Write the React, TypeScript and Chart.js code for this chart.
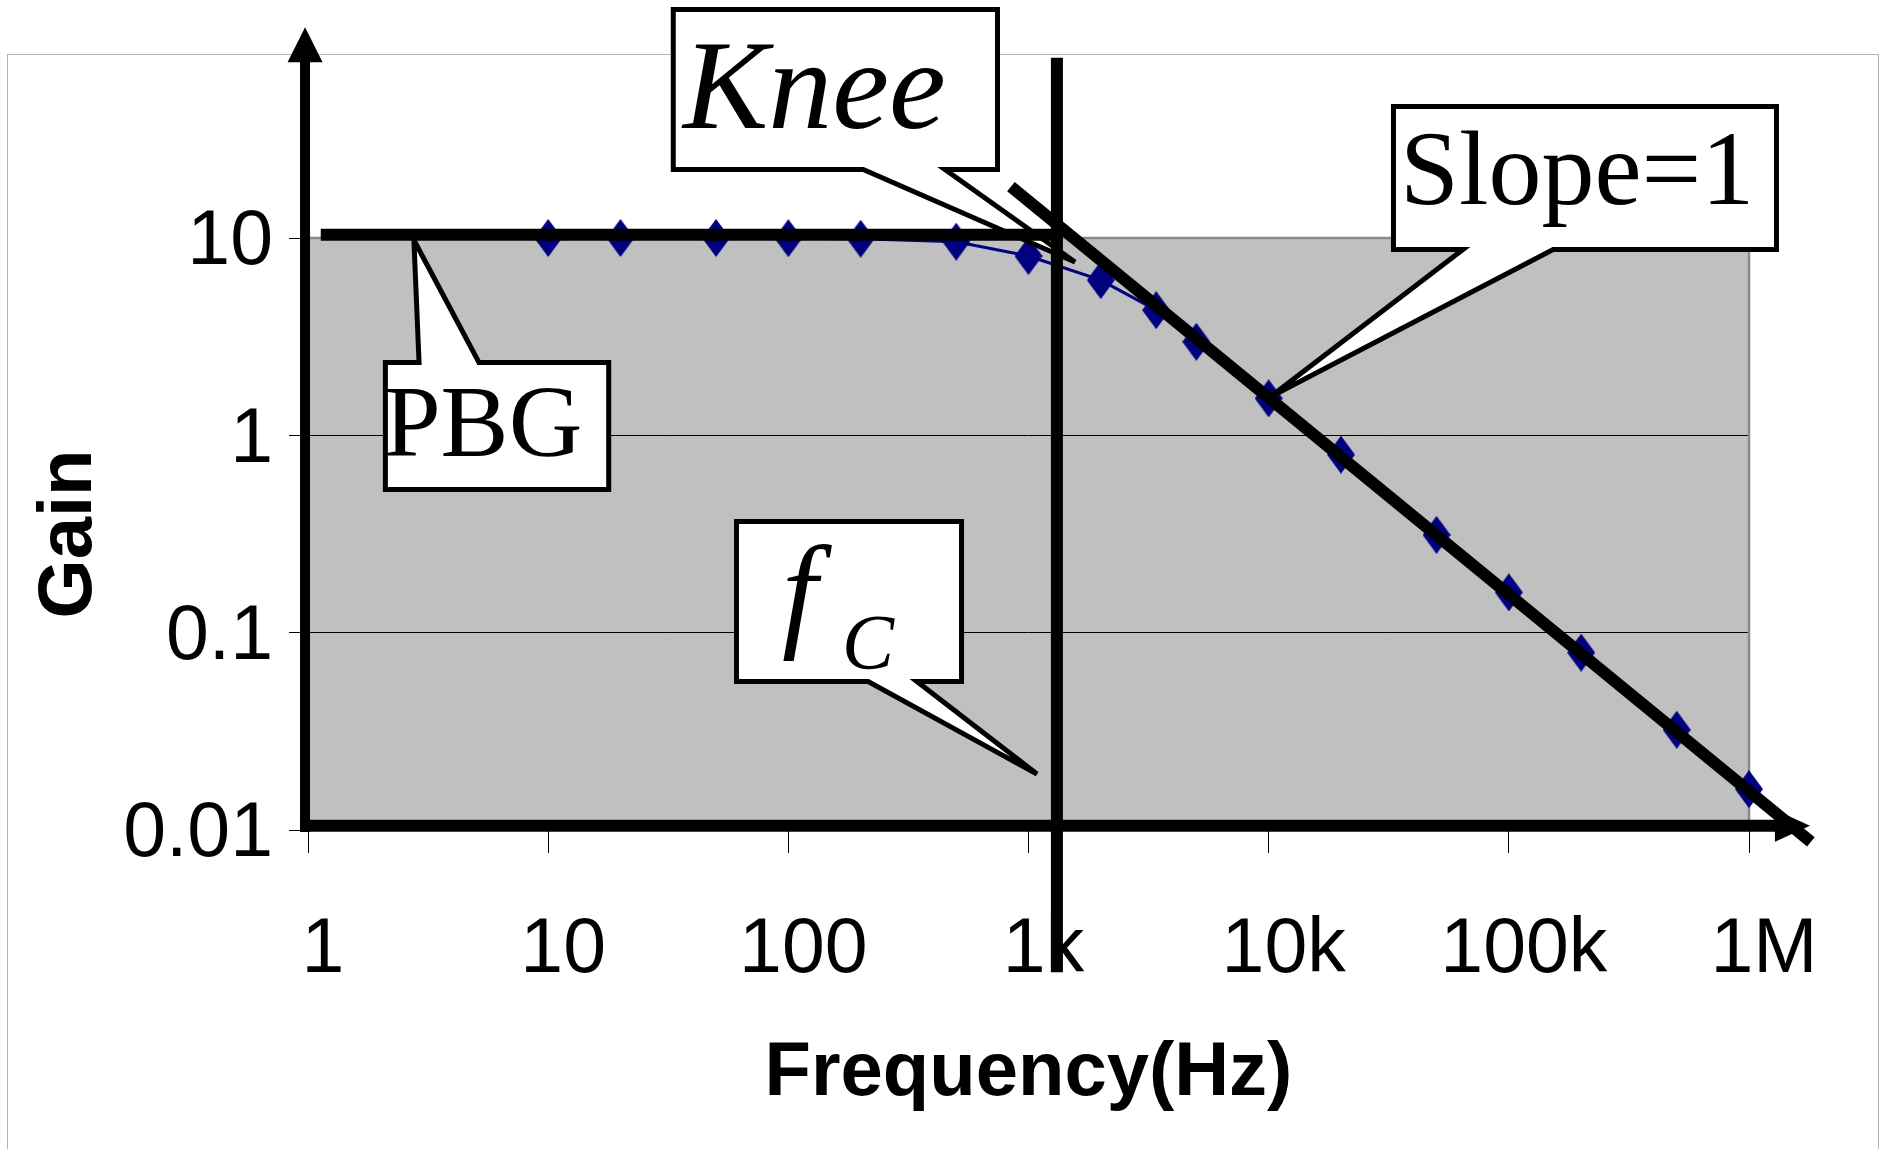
import { useEffect, useRef } from "react";
import { Chart, registerables } from "chart.js";

Chart.register(...registerables);

// ---------- data ----------
const FREQ_HZ = [10, 20, 50, 100, 200, 500, 1000, 2000, 3400, 5000, 10000, 20000, 50000, 100000, 200000, 500000, 1000000];
const GAIN = [10, 10, 10, 9.98, 9.92, 9.58, 8.1, 6.12, 4.31, 2.98, 1.54, 0.798, 0.313, 0.16, 0.0792, 0.0322, 0.0161];

const X_TICK_VALUES = [1, 10, 100, 1000, 10000, 100000, 1000000];
const X_TICK_LABELS = ["1", "10", "100", "1k", "10k", "100k", "1M"];
const Y_TICK_VALUES = [0.01, 0.1, 1, 10];
const Y_TICK_LABELS = ["0.01", "0.1", "1", "10"];

const X_TITLE = "Frequency(Hz)";
const Y_TITLE = "Gain";

// guide lines, in (frequency, gain)
const PBG_LINE_FREQ = [1.13, 1313];
const PBG_LINE_GAIN = [10.4, 10.4];
const FC_LINE_FREQ = [1313, 1313];
const FC_LINE_GAIN = [82, 0.0019];
const SLOPE_LINE_FREQ = [845, 1810000];
const SLOPE_LINE_GAIN = [18.2, 0.0087];

// drawn axes with arrows, in (frequency, gain)
const Y_AXIS_FREQ = 0.972;
const Y_AXIS_GAIN = [0.00977, 117]; // bottom, arrow tip
const X_AXIS_GAIN = 0.0105;
const X_AXIS_FREQ = [0.926, 1794000]; // left, arrow tip

// callouts
const CALLOUT_TEXT = { pbg: "PBG", knee: "Knee", slope: "Slope=1", f: "f", c: "C" };

type Run = { text: string; font: string; at: [number, number] };
type Callout = {
  box: [number, number, number, number]; // freq left, freq right, gain top, gain bottom
  side: "top" | "bottom";
  base: [number, number];
  tip: [number, number];
  runs: Run[];
};

const SERIF = "'Liberation Serif', 'Times New Roman', serif";
const SANS = "'Liberation Sans', Arial, sans-serif";

const CALLOUTS: Callout[] = [
  {
    box: [2.05, 18.3, 2.41, 0.516],
    side: "top",
    base: [2.9, 5.15],
    tip: [2.76, 9.77],
    runs: [{ text: CALLOUT_TEXT.pbg, font: `102px ${SERIF}`, at: [2.11, 0.786] }],
  },
  {
    box: [32.4, 761, 148, 21.6],
    side: "bottom",
    base: [205, 449],
    tip: [1562, 7.56],
    runs: [{ text: CALLOUT_TEXT.knee, font: `italic 128px ${SERIF}`, at: [35.7, 36.1] }],
  },
  {
    box: [59.4, 539, 0.377, 0.0549],
    side: "bottom",
    base: [215, 343],
    tip: [1085, 0.0192],
    runs: [
      { text: CALLOUT_TEXT.f, font: `italic 127px ${SERIF}`, at: [95, 0.0984] },
      { text: CALLOUT_TEXT.c, font: `italic 78px ${SERIF}`, at: [174, 0.0662] },
    ],
  },
  {
    box: [32300, 1333000, 47.8, 8.49],
    side: "bottom",
    base: [64400, 153000],
    tip: [10100, 1.56],
    runs: [{ text: CALLOUT_TEXT.slope, font: `106px ${SERIF}`, at: [37700, 14.9] }],
  },
];

function makeDiamond(): HTMLCanvasElement {
  const w = 28;
  const h = 38;
  const c = document.createElement("canvas");
  c.width = w;
  c.height = h;
  const g = c.getContext("2d")!;
  g.fillStyle = "#000080";
  g.beginPath();
  g.moveTo(w / 2, 0);
  g.lineTo(w, h / 2);
  g.lineTo(w / 2, h);
  g.lineTo(0, h / 2);
  g.closePath();
  g.fill();
  return c;
}

function drawCallout(ctx: CanvasRenderingContext2D, X: (v: number) => number, Y: (v: number) => number, c: Callout) {
  const h = 2.5;
  const l = X(c.box[0]) + h;
  const r = X(c.box[1]) - h;
  const t = Y(c.box[2]) + h;
  const b = Y(c.box[3]) - h;
  const b1 = X(c.base[0]);
  const b2 = X(c.base[1]);
  const tx = X(c.tip[0]);
  const ty = Y(c.tip[1]);
  ctx.beginPath();
  if (c.side === "top") {
    ctx.moveTo(l, t);
    ctx.lineTo(b1, t);
    ctx.lineTo(tx, ty);
    ctx.lineTo(b2, t);
    ctx.lineTo(r, t);
    ctx.lineTo(r, b);
    ctx.lineTo(l, b);
  } else {
    ctx.moveTo(l, t);
    ctx.lineTo(r, t);
    ctx.lineTo(r, b);
    ctx.lineTo(b2, b);
    ctx.lineTo(tx, ty);
    ctx.lineTo(b1, b);
    ctx.lineTo(l, b);
  }
  ctx.closePath();
  ctx.fillStyle = "#ffffff";
  ctx.fill();
  ctx.lineWidth = 5;
  ctx.strokeStyle = "#000000";
  ctx.lineJoin = "miter";
  ctx.miterLimit = 4;
  ctx.stroke();
  ctx.fillStyle = "#000000";
  ctx.textAlign = "left";
  ctx.textBaseline = "alphabetic";
  for (const run of c.runs) {
    ctx.font = run.font;
    const m = ctx.measureText(run.text);
    ctx.fillText(run.text, X(run.at[0]) + m.actualBoundingBoxLeft, Y(run.at[1]));
  }
}

const decorPlugin = {
  id: "decor",
  beforeDraw(chart: any) {
    const { ctx, chartArea: a, width, height } = chart;
    ctx.save();
    ctx.fillStyle = "#ffffff";
    ctx.fillRect(0, 0, width, height);
    // outer chart frame
    ctx.strokeStyle = "#b4b4b4";
    ctx.lineWidth = 1;
    ctx.strokeRect(7.5, 54.5, 1871, height + 20);
    // plot area
    ctx.fillStyle = "#c0c0c0";
    ctx.fillRect(a.left, a.top, a.right - a.left, a.bottom - a.top);
    ctx.restore();
  },
  beforeDatasetsDraw(chart: any) {
    const { ctx, chartArea: a } = chart;
    ctx.save();
    ctx.strokeStyle = "#8a8a8a";
    ctx.lineWidth = 2.5;
    ctx.beginPath();
    ctx.moveTo(a.left, a.top);
    ctx.lineTo(a.right, a.top);
    ctx.lineTo(a.right, a.bottom);
    ctx.stroke();
    ctx.restore();
  },
  afterDatasetsDraw(chart: any) {
    const { ctx } = chart;
    const xs = chart.scales.x;
    const ys = chart.scales.y;
    const X = (v: number) => xs.getPixelForValue(v);
    const Y = (v: number) => ys.getPixelForValue(v);
    ctx.save();

    for (const c of CALLOUTS) drawCallout(ctx, X, Y, c);

    ctx.strokeStyle = "#000000";
    ctx.fillStyle = "#000000";
    ctx.lineCap = "butt";

    // y axis with arrow
    const yx = X(Y_AXIS_FREQ);
    const yTip = Y(Y_AXIS_GAIN[1]);
    ctx.lineWidth = 10;
    ctx.beginPath();
    ctx.moveTo(yx, Y(Y_AXIS_GAIN[0]));
    ctx.lineTo(yx, yTip + 34);
    ctx.stroke();
    ctx.beginPath();
    ctx.moveTo(yx, yTip);
    ctx.lineTo(yx - 17.5, yTip + 35);
    ctx.lineTo(yx + 17.5, yTip + 35);
    ctx.closePath();
    ctx.fill();

    // x axis with arrow
    const xy = Y(X_AXIS_GAIN);
    const xTip = X(X_AXIS_FREQ[1]);
    ctx.lineWidth = 12;
    ctx.beginPath();
    ctx.moveTo(X(X_AXIS_FREQ[0]), xy);
    ctx.lineTo(xTip - 34, xy);
    ctx.stroke();
    ctx.beginPath();
    ctx.moveTo(xTip, xy);
    ctx.lineTo(xTip - 35, xy - 16);
    ctx.lineTo(xTip - 35, xy + 16);
    ctx.closePath();
    ctx.fill();

    // guide lines
    ctx.lineWidth = 12;
    const lines: [number[], number[]][] = [
      [PBG_LINE_FREQ, PBG_LINE_GAIN],
      [FC_LINE_FREQ, FC_LINE_GAIN],
      [SLOPE_LINE_FREQ, SLOPE_LINE_GAIN],
    ];
    for (const [fx, gy] of lines) {
      ctx.beginPath();
      ctx.moveTo(X(fx[0]), Y(gy[0]));
      ctx.lineTo(X(fx[1]), Y(gy[1]));
      ctx.stroke();
    }
    ctx.restore();
  },
};

export default function App() {
  const ref = useRef<HTMLCanvasElement>(null);
  useEffect(() => {
    document.body.style.margin = "0";
    const diamond = makeDiamond();
    const chart = new Chart(ref.current!, {
      type: "line",
      data: {
        datasets: [
          {
            data: FREQ_HZ.map((f, i) => ({ x: f, y: GAIN[i] })),
            borderColor: "#000080",
            backgroundColor: "#000080",
            borderWidth: 3,
            pointStyle: diamond as any,
            pointRadius: 14,
            tension: 0,
            fill: false,
            clip: false as any,
          },
        ],
      },
      options: {
        animation: false,
        responsive: false,
        devicePixelRatio: 1,
        layout: { padding: { left: 0, top: 238, right: 136, bottom: 0 } },
        plugins: { legend: { display: false }, tooltip: { enabled: false } },
        scales: {
          x: {
            type: "logarithmic",
            min: 1,
            max: 1000000,
            afterFit: (s: any) => {
              s.height = 319;
            },
            afterBuildTicks: (s: any) => {
              s.ticks = X_TICK_VALUES.map((v) => ({ value: v }));
            },
            border: { display: false },
            grid: { drawOnChartArea: false, drawTicks: true, tickLength: 23, tickColor: "#000000", tickWidth: 1 },
            ticks: {
              autoSkip: false,
              maxRotation: 0,
              minRotation: 0,
              padding: 52,
              labelOffset: 15,
              color: "#000000",
              font: { family: SANS, size: 77 },
              callback: (_v: any, i: number) => X_TICK_LABELS[i],
            },
            title: {
              display: true,
              text: X_TITLE,
              color: "#000000",
              font: { family: SANS, size: 76, weight: "bold" },
              padding: { top: 0, bottom: 29 },
            },
          },
          y: {
            type: "logarithmic",
            min: 0.01,
            max: 10,
            afterFit: (s: any) => {
              s.width = 308;
            },
            afterBuildTicks: (s: any) => {
              s.ticks = Y_TICK_VALUES.map((v) => ({ value: v }));
            },
            border: { display: false },
            grid: { color: "#000000", lineWidth: 1, drawTicks: true, tickLength: 19, tickColor: "#000000", tickWidth: 1 },
            ticks: {
              autoSkip: false,
              padding: 16,
              labelOffset: 5,
              color: "#000000",
              font: { family: SANS, size: 77 },
              callback: (_v: any, i: number) => Y_TICK_LABELS[i],
            },
            title: {
              display: true,
              text: Y_TITLE,
              color: "#000000",
              font: { family: SANS, size: 76, weight: "bold" },
              padding: { top: 24, bottom: 0 },
            },
          },
        },
      } as any,
      plugins: [decorPlugin],
    });
    return () => chart.destroy();
  }, []);
  return (
    <div style={{ position: "absolute", left: 0, top: 0, width: 1885, height: 1149, overflow: "hidden", background: "#ffffff" }}>
      <canvas ref={ref} width={1885} height={1149} style={{ display: "block", width: 1885, height: 1149 }} />
    </div>
  );
}
